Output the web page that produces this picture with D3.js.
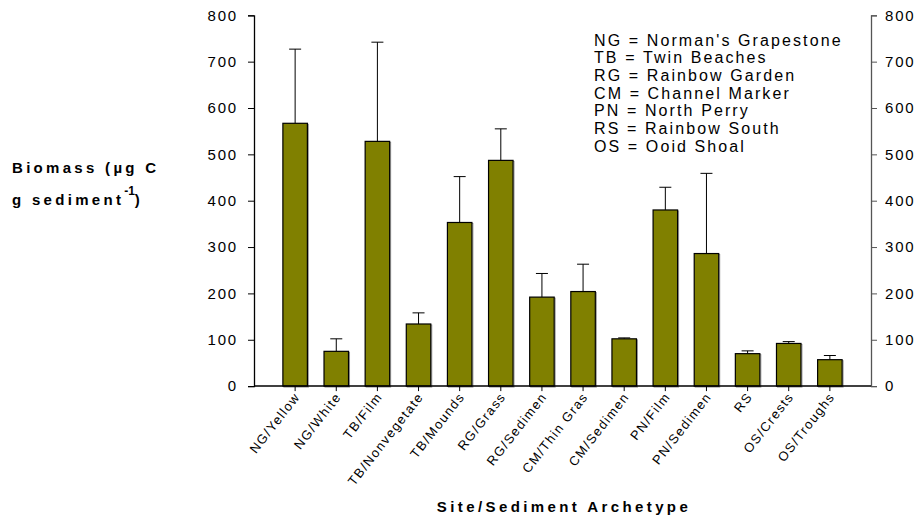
<!DOCTYPE html>
<html><head><meta charset="utf-8">
<script src="https://cdn.jsdelivr.net/npm/d3@7"></script>
<style>
body{margin:0;background:#fff;}
text{font-family:"Liberation Sans",Arial,sans-serif;fill:#000;}
</style></head>
<body><svg id="c" width="919" height="518"></svg>
<script>
const categories = ["NG/Yellow","NG/White","TB/Film","TB/Nonvegetate","TB/Mounds","RG/Grass","RG/Sedimen","CM/Thin Gras","CM/Sedimen","PN/Film","PN/Sedimen","RS","OS/Crests","OS/Troughs"];
const values = [567, 75, 528, 134, 353, 487, 192, 204, 102, 380, 286, 70, 92, 57];
const upperErr = [727, 102, 742, 158, 452, 555, 243, 263, 104, 429, 459, 76, 96, 66];
const yTicks = [0,100,200,300,400,500,600,700,800];
const legendLines = ["NG = Norman's Grapestone","TB = Twin Beaches","RG = Rainbow Garden","CM = Channel Marker","PN = North Perry","RS = Rainbow South","OS = Ooid Shoal"];

const svg = d3.select("#c");
const L = 254, R = 871, T = 15.3, B = 386.1;
const x = d3.scaleLinear().domain([0, categories.length + 1]).range([L, R]);
const y = d3.scaleLinear().domain([0, 800]).range([B, T]);
const bw = 24.5;

// bars
const g = svg.append("g");
g.selectAll("line.err").data(values).enter().append("line")
  .attr("x1", (d,i)=>x(i+1)).attr("x2",(d,i)=>x(i+1))
  .attr("y1", d=>y(d)).attr("y2",(d,i)=>y(upperErr[i]))
  .attr("stroke","#000").attr("stroke-width",1);
g.selectAll("line.cap").data(values).enter().append("line")
  .attr("x1", (d,i)=>x(i+1)-6).attr("x2",(d,i)=>x(i+1)+6)
  .attr("y1", (d,i)=>y(upperErr[i])).attr("y2",(d,i)=>y(upperErr[i]))
  .attr("stroke","#000").attr("stroke-width",1);
g.selectAll("rect.shadow").data(values).enter().append("rect")
  .attr("x",(d,i)=>x(i+1)-bw/2+1).attr("width",bw)
  .attr("y", d=>y(d)+1).attr("height", d=>B-y(d))
  .attr("fill","none").attr("stroke","#999").attr("stroke-width",1);
g.selectAll("rect.bar").data(values).enter().append("rect")
  .attr("x",(d,i)=>x(i+1)-bw/2).attr("width",bw)
  .attr("y", d=>y(d)).attr("height", d=>B-y(d))
  .attr("fill","#808000").attr("stroke","#000").attr("stroke-width",1.2);

// left axis
const la = svg.append("g").attr("transform",`translate(${L},0)`)
  .call(d3.axisLeft(y).tickValues(yTicks).tickSize(6).tickPadding(10).tickFormat(d3.format("d")));
la.select(".domain").attr("stroke","#000").attr("stroke-width",1.3);
la.selectAll("text").style("font-size","15px").style("letter-spacing","1.8px");
// right axis
const ra = svg.append("g").attr("transform",`translate(${R},0)`)
  .call(d3.axisRight(y).tickValues(yTicks).tickSize(6).tickPadding(8).tickFormat(d3.format("d")));
ra.select(".domain").attr("stroke","#555").attr("stroke-width",1.3);
ra.selectAll("line").attr("stroke","#555");
ra.selectAll("text").style("font-size","15px").style("letter-spacing","1.8px");
// bottom baseline & ticks
svg.append("line").attr("x1",L).attr("x2",R).attr("y1",B).attr("y2",B).attr("stroke","#000").attr("stroke-width",1.5);
const bt = svg.append("g");
bt.selectAll("line").data(categories).enter().append("line")
  .attr("x1",(d,i)=>x(i+1)).attr("x2",(d,i)=>x(i+1)).attr("y1",B).attr("y2",B+5).attr("stroke","#000");
bt.selectAll("text").data(categories).enter().append("text")
  .attr("transform",(d,i)=>`translate(${x(i+1)+2},${B+8}) rotate(-52)`)
  .attr("text-anchor","end").attr("dy","0.35em")
  .style("font-size","13px").style("letter-spacing","1.4px").text(d=>d);

// legend
svg.append("g").selectAll("text").data(legendLines).enter().append("text")
  .attr("x",594).attr("y",(d,i)=>45.5+i*17.7)
  .style("font-size","16px").style("letter-spacing","2.1px").text(d=>d);

// y title
const yt = svg.append("g").style("font-weight","bold");
yt.append("text").attr("x",12).attr("y",173).style("font-size","15px").style("letter-spacing","3.3px").text("Biomass (µg C");
const t2 = yt.append("text").attr("x",12).attr("y",205).style("font-size","15px").style("letter-spacing","3.3px");
t2.append("tspan").text("g sediment");
t2.append("tspan").attr("dy",-10).style("font-size","12px").style("letter-spacing","0px").text("-1");
t2.append("tspan").attr("dy",10).text(")");

// x title
svg.append("text").attr("x",564).attr("y",512).attr("text-anchor","middle")
  .style("font-size","15px").style("font-weight","bold").style("letter-spacing","3.4px")
  .text("Site/Sediment Archetype");
</script></body></html>
